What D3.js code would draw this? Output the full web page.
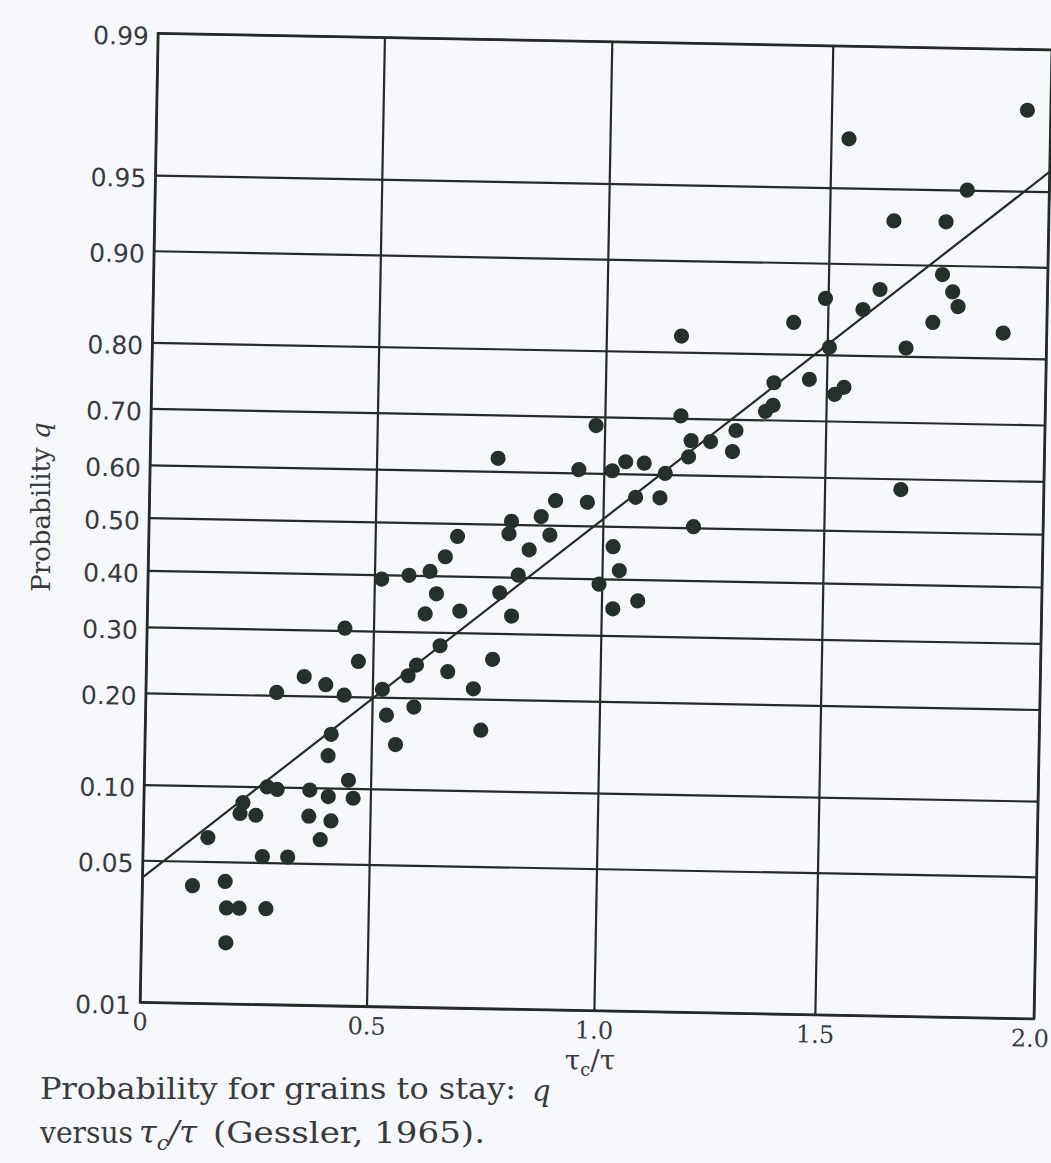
<!DOCTYPE html>
<html>
<head>
<meta charset="utf-8">
<script src="https://cdn.jsdelivr.net/npm/d3@7"></script>
<style>
  html, body { margin: 0; padding: 0; background: #f6f8fb; }
  svg { display: block; }
</style>
</head>
<body>
<svg id="chart" width="1051" height="1163"></svg>
<script>
// ---------------- data ----------------
const tauRatio = [
  0.468,0.349,0.397,0.289,0.438,0.522,0.532,0.553,0.411,0.405,
  0.451,0.462,0.366,0.407,0.272,0.294,0.365,0.414,0.391,0.219,
  0.213,0.248,0.143,0.264,0.320,0.111,0.183,0.187,0.215,0.274,
  0.187,
  0.767,0.895,0.799,0.794,0.864,0.884,0.681,0.839,0.655,0.516,
  0.576,0.622,0.816,0.637,0.776,0.613,0.689,0.803,0.437,0.647,
  0.596,0.578,0.665,0.763,0.722,0.592,0.740,
  1.172,0.981,1.380,1.363,1.196,1.240,1.297,1.290,1.191,1.049,
  1.091,1.019,0.945,1.139,1.073,1.128,0.965,1.205,1.024,1.039,
  0.994,1.026,1.082,
  1.760,1.784,1.797,1.618,1.494,1.580,1.740,1.423,1.170,1.505,
  1.680,1.381,1.461,1.540,1.519,1.674,
  1.947,1.541,1.813,1.647,1.766,1.901
];
const probQ = [
  0.251,0.227,0.216,0.204,0.202,0.211,0.177,0.143,0.153,0.130,
  0.107,0.092,0.098,0.093,0.100,0.098,0.078,0.075,0.063,0.087,
  0.079,0.078,0.063,0.053,0.053,0.039,0.041,0.031,0.031,0.031,
  0.021,
  0.624,0.547,0.506,0.482,0.516,0.481,0.475,0.452,0.436,0.392,
  0.400,0.408,0.404,0.367,0.371,0.331,0.337,0.330,0.304,0.278,
  0.247,0.231,0.238,0.258,0.214,0.188,0.161,
  0.704,0.685,0.724,0.714,0.662,0.661,0.681,0.644,0.633,0.622,
  0.620,0.605,0.606,0.602,0.556,0.556,0.545,0.502,0.461,0.416,
  0.390,0.346,0.361,
  0.892,0.876,0.861,0.877,0.867,0.856,0.843,0.840,0.821,0.810,
  0.811,0.759,0.765,0.754,0.743,0.580,
  0.979,0.970,0.950,0.932,0.932,0.832
];
const fitTau = [0, 2.0];
const fitQ = [0.042, 0.959];

const xTicks = [0, 0.5, 1.0, 1.5, 2.0];
const xTickLabels = ["0", "0.5", "1.0", "1.5", "2.0"];
const yTicks = [0.01, 0.05, 0.10, 0.20, 0.30, 0.40, 0.50, 0.60, 0.70, 0.80, 0.90, 0.95, 0.99];
const yTickLabels = ["0.01", "0.05", "0.10", "0.20", "0.30", "0.40", "0.50", "0.60", "0.70", "0.80", "0.90", "0.95", "0.99"];

// ---------------- probability (normal quantile) transform ----------------
function probit(p) {
  const a = [-3.969683028665376e+01, 2.209460984245205e+02, -2.759285104469687e+02,
             1.383577518672690e+02, -3.066479806614716e+01, 2.506628277459239e+00];
  const b = [-5.447609879822406e+01, 1.615858368580409e+02, -1.556989798598866e+02,
             6.680131188771972e+01, -1.328068155288572e+01];
  const c = [-7.784894002430293e-03, -3.223964580411365e-01, -2.400758277161838e+00,
             -2.549732539343734e+00, 4.374664141464968e+00, 2.938163982698783e+00];
  const d = [7.784695709041462e-03, 3.224671290700398e-01, 2.445134137142996e+00,
             3.754408661907416e+00];
  const plow = 0.02425, phigh = 1 - plow;
  let q, r;
  if (p < plow) {
    q = Math.sqrt(-2 * Math.log(p));
    return (((((c[0]*q+c[1])*q+c[2])*q+c[3])*q+c[4])*q+c[5]) /
           ((((d[0]*q+d[1])*q+d[2])*q+d[3])*q+1);
  } else if (p <= phigh) {
    q = p - 0.5; r = q*q;
    return (((((a[0]*r+a[1])*r+a[2])*r+a[3])*r+a[4])*r+a[5])*q /
           (((((b[0]*r+b[1])*r+b[2])*r+b[3])*r+b[4])*r+1);
  } else {
    q = Math.sqrt(-2 * Math.log(1 - p));
    return -(((((c[0]*q+c[1])*q+c[2])*q+c[3])*q+c[4])*q+c[5]) /
            ((((d[0]*q+d[1])*q+d[2])*q+d[3])*q+1);
  }
}

// ---------------- layout ----------------
const W = 894, H = 969.2;
const originX = 140, originY = 1002.2, tilt = 1.06; // scanned page is slightly rotated
const ink = "#262a29", textInk = "#383b3c", dotInk = "#25302b";

const svg = d3.select("#chart");
svg.append("rect").attr("width", 1051).attr("height", 1163).attr("fill", "#f6f8fb");

// x scale follows the (slightly uneven) printed grid spacing
const xScale = d3.scaleLinear().domain(xTicks).range([0, 0.2534, 0.5078, 0.7550, 1].map(f => f * W));
const zScale = d3.scaleLinear().domain([probit(0.01), probit(0.99)]).range([H, 0]);
const yPos = q => zScale(probit(q));

const g = svg.append("g")
  .attr("transform", `translate(${originX},${originY}) rotate(${tilt}) translate(0,${-H})`);

// horizontal grid + y labels
const yAxis = d3.axisLeft(zScale)
  .tickValues(yTicks.map(probit))
  .tickSize(-W)
  .tickPadding(9)
  .tickFormat((d, i) => yTickLabels[i]);
const gy = g.append("g").call(yAxis);
gy.select(".domain").remove();
gy.selectAll(".tick line").attr("stroke", ink).attr("stroke-width", 2.2);
gy.selectAll(".tick text")
  .attr("fill", textInk)
  .attr("font-family", "DejaVu Sans, sans-serif")
  .attr("font-size", 25)
  .attr("dy", "0.46em");

// vertical grid + x labels
const xAxis = d3.axisBottom(xScale)
  .tickValues(xTicks)
  .tickSize(-H)
  .tickPadding(11)
  .tickFormat((d, i) => xTickLabels[i]);
const gx = g.append("g").attr("transform", `translate(0,${H})`).call(xAxis);
gx.select(".domain").remove();
gx.selectAll(".tick line").attr("stroke", ink).attr("stroke-width", 2.2);
gx.selectAll(".tick text")
  .attr("fill", textInk)
  .attr("font-family", "DejaVu Serif, serif")
  .attr("font-size", 24);
// keep the last label inside the page edge
gx.selectAll(".tick text").filter((d, i) => i === xTicks.length - 1)
  .attr("text-anchor", "end")
  .attr("dx", 15);

// frame
g.append("rect")
  .attr("x", 0).attr("y", 0).attr("width", W).attr("height", H)
  .attr("fill", "none").attr("stroke", ink).attr("stroke-width", 2.4);

// fitted line
const fitData = fitTau.map((t, i) => [t, fitQ[i]]);
g.append("path")
  .datum(fitData)
  .attr("d", d3.line().x(d => xScale(d[0])).y(d => yPos(d[1])))
  .attr("fill", "none").attr("stroke", ink).attr("stroke-width", 2.2);

// points
const pts = tauRatio.map((t, i) => ({ t: t, q: probQ[i] }));
g.append("g").selectAll("circle")
  .data(pts)
  .join("circle")
  .attr("cx", d => xScale(d.t))
  .attr("cy", d => yPos(d.q))
  .attr("r", 7.6)
  .attr("fill", dotInk);

// y title
const yt = svg.append("text")
  .attr("transform", "translate(50,507) rotate(-90)")
  .attr("text-anchor", "middle")
  .attr("font-family", "DejaVu Serif, serif")
  .attr("font-size", 26)
  .attr("fill", textInk);
yt.append("tspan").text("Probability ");
yt.append("tspan").attr("font-style", "italic").text("q");

// x title
const xt = svg.append("text")
  .attr("x", 590).attr("y", 1070)
  .attr("text-anchor", "middle")
  .attr("font-family", "DejaVu Serif, serif")
  .attr("font-size", 28)
  .attr("fill", textInk);
xt.append("tspan").text("τ");
xt.append("tspan").attr("font-size", 18).attr("dy", 6).text("c");
xt.append("tspan").attr("dy", -6).text("/τ");

// caption
const capFont = "DejaVu Serif, serif";
function capText(x, y, txt, len, italic) {
  const t = svg.append("text")
    .attr("x", x).attr("y", y)
    .attr("font-family", capFont)
    .attr("font-size", 29)
    .attr("fill", textInk)
    .text(txt);
  if (len) t.attr("textLength", len).attr("lengthAdjust", "spacingAndGlyphs");
  if (italic) t.attr("font-style", "italic");
  return t;
}
capText(40, 1099, "Probability for grains to stay:", 476, false);
capText(532, 1101, "q", null, true);
capText(40, 1143, "versus", 93, false);
const tau2 = svg.append("text")
  .attr("x", 139).attr("y", 1143)
  .attr("font-family", capFont).attr("font-size", 32)
  .attr("font-style", "italic").attr("fill", textInk);
tau2.append("tspan").text("τ");
tau2.append("tspan").attr("font-size", 21).attr("dy", 7).text("c");
tau2.append("tspan").attr("dy", -7).text("/τ");
capText(213, 1143, "(Gessler, 1965).", 272, false);
</script>
</body>
</html>
